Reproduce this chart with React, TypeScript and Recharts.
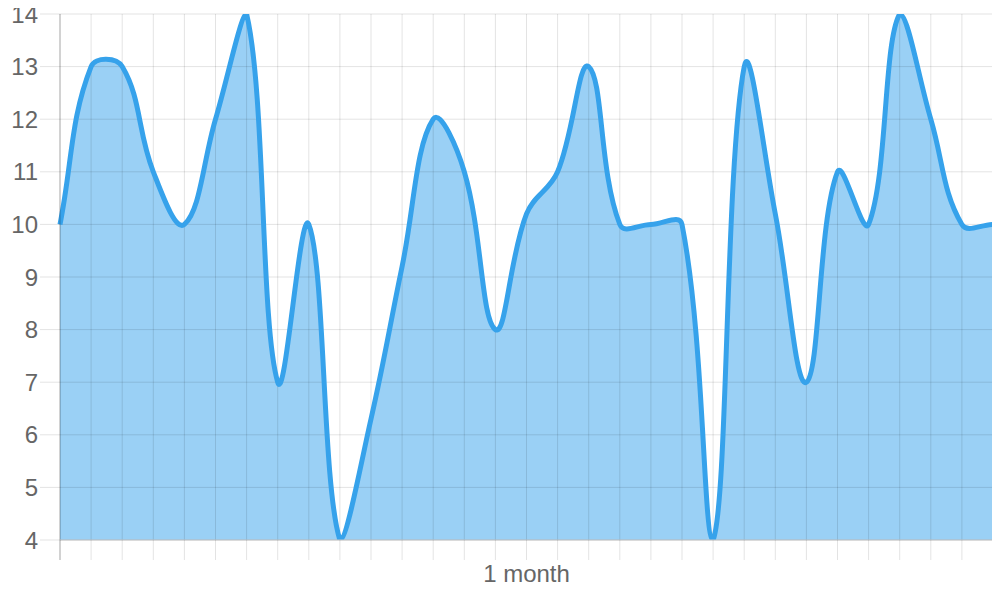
import { AreaChart, Area, XAxis, YAxis, CartesianGrid } from 'recharts';

// one value per day
const days = Array.from({ length: 31 }, (_, i) => String(i + 1));
const values = [
  10, 13, 13, 11, 10, 12, 14, 7, 10, 4,
  6.3, 9.2, 12, 11, 8, 10.2, 11, 13, 10, 10,
  10, 4, 13, 10.2, 7, 11, 10, 14, 12, 10, 10,
];
const yTicks = [4, 5, 6, 7, 8, 9, 10, 11, 12, 13, 14];

const data = days.map((day, i) => ({ day, value: values[i] }));

const FONT = '"Liberation Sans", Arial, sans-serif';
const GRID = 'rgba(0,0,0,0.11)';

// Chart.js style bezier (tension 0.4, control points capped to the data box)
function splineCurve(context: any) {
  let pts: [number, number][] = [];
  let line = NaN;
  const tension = 0.4;

  const draw = () => {
    const n = pts.length;
    if (!n) return;
    const xs = pts.map(p => p[0]);
    const ys = pts.map(p => p[1]);
    const minX = Math.min(...xs), maxX = Math.max(...xs);
    const minY = Math.min(...ys), maxY = Math.max(...ys);
    const clamp = (v: number, a: number, b: number) => Math.max(a, Math.min(b, v));

    const cps = pts.map((cur, i) => {
      const prev = pts[Math.max(i - 1, 0)];
      const next = pts[Math.min(i + 1, n - 1)];
      const d01 = Math.hypot(cur[0] - prev[0], cur[1] - prev[1]);
      const d12 = Math.hypot(next[0] - cur[0], next[1] - cur[1]);
      let s01 = d01 / (d01 + d12);
      let s12 = d12 / (d01 + d12);
      if (isNaN(s01)) s01 = 0;
      if (isNaN(s12)) s12 = 0;
      const fa = tension * s01;
      const fb = tension * s12;
      return {
        px: clamp(cur[0] - fa * (next[0] - prev[0]), minX, maxX),
        py: clamp(cur[1] - fa * (next[1] - prev[1]), minY, maxY),
        nx: clamp(cur[0] + fb * (next[0] - prev[0]), minX, maxX),
        ny: clamp(cur[1] + fb * (next[1] - prev[1]), minY, maxY),
      };
    });

    if (line) context.lineTo(pts[0][0], pts[0][1]);
    else context.moveTo(pts[0][0], pts[0][1]);
    for (let i = 1; i < n; i++) {
      context.bezierCurveTo(cps[i - 1].nx, cps[i - 1].ny, cps[i].px, cps[i].py, pts[i][0], pts[i][1]);
    }
  };

  return {
    areaStart() { line = 0; },
    areaEnd() { line = NaN; },
    lineStart() { pts = []; },
    lineEnd() {
      draw();
      if (line || (line !== 0 && pts.length === 1)) context.closePath();
      line = 1 - line;
    },
    point(x: number, y: number) { pts.push([+x, +y]); },
  };
}

const XTick = (props: any) => {
  const { x, y, index } = props;
  if (index !== 0) return <g />;
  return <line x1={x} x2={x} y1={y - 22} y2={y - 2} stroke="rgba(0,0,0,0.25)" />;
};

export default function App() {
  const zProps = (z: number) => ({ zIndex: z } as any);
  return (
    <div style={{ margin: -8, width: 1000, height: 600, background: '#fff' }}>
      <AreaChart
        width={1000}
        height={600}
        data={data}
        margin={{ top: 14, right: 7, bottom: 0, left: 0 }}
      >
        {/* fill first, grid over it, then the line on top */}
        <Area
          {...zProps(50)}
          type={splineCurve as any}
          dataKey="value"
          stroke="none"
          fill="rgba(54,162,235,0.5)"
          fillOpacity={1}
          isAnimationActive={false}
          dot={false}
          activeDot={false}
        />
        <CartesianGrid {...zProps(150)} stroke={GRID} />
        <Area
          {...zProps(300)}
          type={splineCurve as any}
          dataKey="value"
          stroke="#36a2eb"
          strokeWidth={5}
          fill="none"
          isAnimationActive={false}
          dot={false}
          activeDot={false}
        />
        <YAxis
          width={60}
          domain={[4, 14]}
          ticks={yTicks}
          allowDataOverflow
          tickSize={20}
          tickMargin={2}
          axisLine={{ stroke: 'rgba(0,0,0,0.25)' }}
          tickLine={{ stroke: GRID }}
          tick={{ fontSize: 24, fill: '#666', fontFamily: FONT }}
        />
        <XAxis
          dataKey="day"
          height={60}
          interval={0}
          tickSize={20}
          axisLine={{ stroke: '#c4c4c4' }}
          tickLine={{ stroke: GRID }}
          tick={<XTick />}
          label={{
            value: '1 month',
            position: 'insideBottom',
            offset: 18,
            fontSize: 24,
            fill: '#666',
            fontFamily: FONT,
          }}
        />
      </AreaChart>
    </div>
  );
}
